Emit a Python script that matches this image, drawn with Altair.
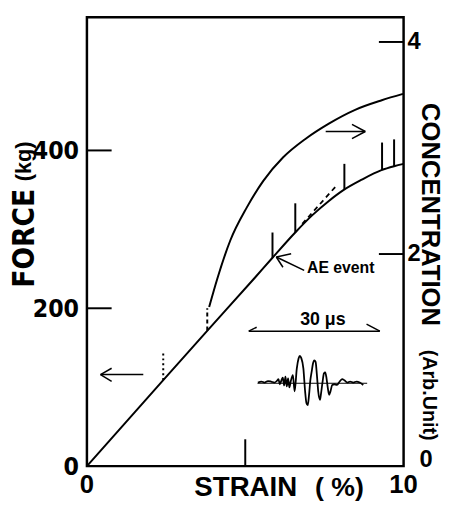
import altair as alt
import pandas as pd

# ---------------- data ----------------
# Force-strain curve (left axis, kg)
force_strain = [0.0, 2.41, 3.79, 5.31, 5.86, 6.60, 7.12, 7.64, 8.11, 8.68, 9.30, 9.70, 10.0]
force_kg = [0, 109, 171, 239, 264, 297, 318, 336, 350, 363, 375, 380, 383]

# AE concentration curve (right axis, arb. unit)
conc_strain = [3.86, 4.11, 4.53, 5.05, 5.57, 6.19, 6.92, 7.64, 8.47, 9.31, 9.98]
conc_value = [1.50, 1.76, 2.13, 2.44, 2.69, 2.91, 3.09, 3.23, 3.36, 3.45, 3.51]

# AE events (vertical marks on the force curve)
ae_strain = [5.86, 6.58, 8.13, 9.32, 9.70]
ae_low = [264, 296, 351, 375, 380]
ae_high = [296, 333, 383, 410, 414]

# early (dotted / dashed) events
pre_strain = [2.41, 3.80]
pre_low = [109, 172]
pre_high = [145, 200]
pre_dash = ["dot", "dash"]

# dashed trace above the curve
dash_strain = [6.80, 7.85]
dash_force = [307, 354]

# inset AE waveform: time (us) and amplitude (arb.)
wave_t = [2.1, 2.9, 3.6, 4.4, 5.1, 5.9, 6.5, 6.8, 7.1, 7.5, 7.8, 8.1, 8.4, 8.7, 9.0, 9.3, 9.6,
          10.1, 10.5, 11.0, 11.4, 11.7, 12.0, 12.5, 12.9, 13.2, 13.5, 13.8, 14.1, 14.4, 14.7,
          15.0, 15.3, 15.6, 15.9, 16.3, 16.5, 16.9, 17.2, 17.5, 17.8, 18.1, 18.4, 18.7, 19.1,
          19.6, 20.2, 20.8, 21.4, 21.9, 22.6, 23.2, 23.9, 24.7, 25.4, 26.2]
wave_amp = [0.03, 0.07, 0.03, 0.09, 0.07, 0.03, 0.11, 0.17, -0.04, 0.13, 0.23, -0.09, 0.27, -0.13,
            0.20, -0.17, 0.07, 0.33, -0.33, 0.60, 1.00, 1.11, 1.03, 0.60, -0.33, -0.80, -0.89,
            -0.47, 0.13, 0.47, 0.80, 0.93, 0.87, 0.33, -0.33, -0.67, -0.47, 0.07, 0.40, 0.44,
            0.20, -0.20, -0.47, -0.33, -0.07, -0.04, -0.07, 0.07, 0.17, 0.12, 0.03, 0.07, 0.03,
            0.07, 0.03, -0.07]
wave_span_us = 30

x_ticks = [0, 10]
x_tick_labels = ["0", "10"]
force_ticks = [0, 200, 400]
force_tick_labels = ["0", "200", "400"]
conc_ticks = [2, 4]
conc_tick_labels = ["2", "4"]
conc_zero_label = "0"

# ---------------- layout constants ----------------
W, H = 321, 455
FONT = "Liberation Sans, Arial, Helvetica, sans-serif"
NARROW = "Liberation Sans Narrow, DejaVu Sans Condensed, Arial Narrow, sans-serif"

# inset placement (in strain / force units)
INSET_X0, INSET_DX = 5.11, 0.138      # strain at t=0, strain per microsecond
INSET_Y0, INSET_DY = 105, 31.25       # force of wave baseline, force per amplitude unit
BRACKET_Y = 171

xs = alt.Scale(domain=[0, 10], nice=False, zero=False)
fs = alt.Scale(domain=[0, 568.75], nice=False, zero=False)
cs = alt.Scale(domain=[0, 4.233], nice=False, zero=False)


def seg_layer(df, dash=None, width=2.0, scale=fs):
    kw = dict(color="black", strokeWidth=width)
    if dash:
        kw["strokeDash"] = dash
    return alt.Chart(df).mark_rule(**kw).encode(
        x=alt.X("x1:Q", scale=xs, axis=None),
        x2="x2:Q",
        y=alt.Y("y1:Q", scale=scale, axis=None),
        y2="y2:Q",
    )


force_df = pd.DataFrame({"strain": force_strain, "force": force_kg})
force_line = alt.Chart(force_df).mark_line(color="black", strokeWidth=2, interpolate="monotone").encode(
    x=alt.X("strain:Q", scale=xs, axis=None),
    y=alt.Y("force:Q", scale=fs, axis=None),
)

ae_df = pd.DataFrame({"x1": ae_strain, "x2": ae_strain, "y1": ae_low, "y2": ae_high})
ae_rules = seg_layer(ae_df, width=2)

pre_df = pd.DataFrame({"x1": pre_strain, "x2": pre_strain, "y1": pre_low, "y2": pre_high, "k": pre_dash})
pre_dot = seg_layer(pre_df[pre_df.k == "dot"], dash=[2, 3], width=2)
pre_dsh = seg_layer(pre_df[pre_df.k == "dash"], dash=[4, 3], width=2)

dtrace = seg_layer(pd.DataFrame({"x1": [dash_strain[0]], "x2": [dash_strain[1]],
                                 "y1": [dash_force[0]], "y2": [dash_force[1]]}), dash=[5, 4], width=1.8)

# inward ticks: left (force) and bottom (strain)
left_ticks = seg_layer(pd.DataFrame({"x1": [0, 0], "x2": [0.78, 0.78], "y1": [200, 400], "y2": [200, 400]}), width=2)
bottom_tick = seg_layer(pd.DataFrame({"x1": [5], "x2": [5], "y1": [0], "y2": [34]}), width=2)

# tick labels
left_lab = alt.Chart(pd.DataFrame({"v": force_ticks, "t": force_tick_labels})).mark_text(
    align="right", baseline="middle", font=NARROW, fontSize=25, fontWeight="bold", color="black", dy=1
).encode(x=alt.value(-8), y=alt.Y("v:Q", scale=fs, axis=None), text="t:N")

bottom_lab = alt.Chart(pd.DataFrame({"v": x_ticks, "t": x_tick_labels})).mark_text(
    align="center", baseline="top", font=FONT, fontSize=26, fontWeight="bold", color="black"
).encode(x=alt.X("v:Q", scale=xs, axis=None), y=alt.value(H + 6), text="t:N")

# arrows (shaft + two head strokes)
arrows = pd.DataFrame({
    "x1": [0.43, 0.43, 0.43, 7.54, 8.79, 8.79, 5.98, 5.98, 5.98],
    "x2": [1.78, 0.78, 0.78, 8.79, 8.37, 8.37, 6.86, 6.45, 6.19],
    "y1": [116, 116, 116, 424, 424, 424, 265, 265, 265],
    "y2": [116, 124, 107.5, 424, 433, 415, 248, 269, 252],
})
arrow_rules = seg_layer(arrows, width=1.5)

# inset: 30 us bracket
bx0 = INSET_X0
bx1 = INSET_X0 + wave_span_us * INSET_DX
bracket = pd.DataFrame({
    "x1": [bx0, bx0, bx1],
    "x2": [bx1, bx0 + 0.25, bx1 - 0.42],
    "y1": [BRACKET_Y] * 3,
    "y2": [BRACKET_Y, BRACKET_Y + 5, BRACKET_Y + 9],
})
bracket_rules = seg_layer(bracket, width=1.5)

wave_df = pd.DataFrame({
    "strain": [INSET_X0 + t * INSET_DX for t in wave_t],
    "force": [INSET_Y0 + a * INSET_DY for a in wave_amp],
})
wave_line = alt.Chart(wave_df).mark_line(color="black", strokeWidth=1.8, interpolate="monotone").encode(
    x=alt.X("strain:Q", scale=xs, axis=None),
    y=alt.Y("force:Q", scale=fs, axis=None),
)
wave_base = seg_layer(pd.DataFrame({"x1": [INSET_X0 + 2.0 * INSET_DX], "x2": [INSET_X0 + 27.1 * INSET_DX],
                                    "y1": [INSET_Y0], "y2": [INSET_Y0]}), width=1)

# in-plot texts (data coordinates)
ann = pd.DataFrame({"strain": [6.95], "force": [251], "t": ["AE event"]})
ann_text = alt.Chart(ann).mark_text(align="left", baseline="middle", font=FONT, fontSize=16,
                                    fontWeight="bold", color="black").encode(
    x=alt.X("strain:Q", scale=xs, axis=None), y=alt.Y("force:Q", scale=fs, axis=None), text="t:N")

us = pd.DataFrame({"strain": [7.45], "force": [185], "t": ["30  μs"]})
us_text = alt.Chart(us).mark_text(align="center", baseline="middle", font=FONT, fontSize=18,
                                  fontWeight="bold", color="black").encode(
    x=alt.X("strain:Q", scale=xs, axis=None), y=alt.Y("force:Q", scale=fs, axis=None), text="t:N")


def title_text(txt, px, py, size, angle=0, font=FONT, weight="bold"):
    kw = dict(align="center", baseline="middle", font=font, fontSize=size, fontWeight=weight, color="black")
    if angle:
        kw["angle"] = angle
    return alt.Chart(pd.DataFrame({"t": [txt]})).mark_text(**kw).encode(
        text="t:N", x=alt.value(px), y=alt.value(py))


t_force = title_text("FORCE", -63, 224, 30, angle=270, font=NARROW)
t_kg = title_text("(kg)", -64, 146, 22, angle=270)
t_conc = title_text("CONCENTRATION", 348, 200, 26, angle=90)
t_arb = title_text("(Arb.Unit)", 347, 383, 20, angle=90)
t_strain = title_text("STRAIN", 161, 477, 28)
t_pct = title_text("( %)", 256, 477, 27)

force_group = alt.layer(
    force_line, ae_rules, pre_dot, pre_dsh, dtrace, left_ticks, bottom_tick, arrow_rules,
    bracket_rules, wave_base, wave_line, ann_text, us_text, left_lab, bottom_lab,
    t_force, t_kg, t_conc, t_arb, t_strain, t_pct,
)

# concentration curve with right-side labels
conc_df = pd.DataFrame({"strain": conc_strain, "conc": conc_value})
conc_line = alt.Chart(conc_df).mark_line(color="black", strokeWidth=2, interpolate="monotone").encode(
    x=alt.X("strain:Q", scale=xs, axis=None),
    y=alt.Y("conc:Q", scale=cs, axis=None),
)
right_ticks = seg_layer(pd.DataFrame({"x1": [9.22, 9.22], "x2": [10, 10], "y1": [2, 4], "y2": [2, 4]}),
                        width=2, scale=cs)
right_lab = alt.Chart(pd.DataFrame({"v": conc_ticks, "t": conc_tick_labels})).mark_text(
    align="left", baseline="middle", font=FONT, fontSize=24, fontWeight="bold", color="black"
).encode(x=alt.value(W + 4), y=alt.Y("v:Q", scale=cs, axis=None), text="t:N")
right_zero = alt.Chart(pd.DataFrame({"v": [0], "t": [conc_zero_label]})).mark_text(
    align="left", baseline="middle", font=FONT, fontSize=24, fontWeight="bold", color="black", dy=-6
).encode(x=alt.value(W + 16), y=alt.Y("v:Q", scale=cs, axis=None), text="t:N")
conc_group = alt.layer(conc_line, right_ticks, right_lab, right_zero)

chart = alt.layer(force_group, conc_group).resolve_scale(y="independent").properties(
    width=W, height=H,
    padding={"left": 80, "top": 6, "right": 44, "bottom": 34},
    autosize=alt.AutoSizeParams(type="none"),
    background="white",
).configure_view(stroke="black", strokeWidth=2.5)

chart.save("out.html", embed_options={"renderer": "svg", "actions": False})
